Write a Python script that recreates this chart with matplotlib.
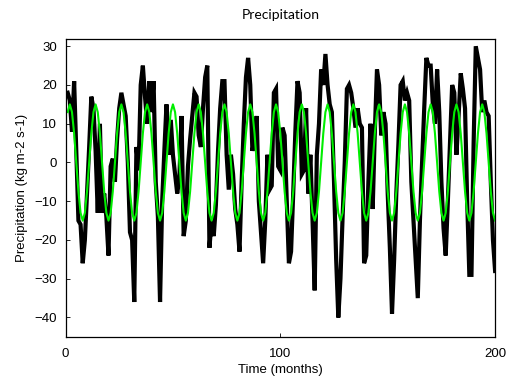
import numpy as np
import matplotlib
matplotlib.use('Agg')
import matplotlib.pyplot as plt

# monthly values (months 1..200)
months = np.arange(1, 201)

precip = [
    18, 16, 8, 21, 3, -15, -16, -26, -20, -8, 4, 17,
    14, 3, -13, 10, -13, -8, -14, -24, -1, 1, -5, 6,
    14, 18, 15, 12, 0, -18, -20, -36, 4, -2, 20, 25,
    17, 10, 21, 13, 21, -5, -14, -36, -10, 3, 15, 2,
    11, 2, -3, -8, -4, 12, -19, -15, -1, 6, 12, 18,
    17, 7, 4, 14, 22, 25, -22, -15, -19, -11, 3, 14,
    21, 21, 2, -7, 2, -3, -12, -16, -23, -5, 10, 22,
    27, 20, 3, 6, 12, -10, -18, -26, -15, 2, -7, -6,
    18, 19, -1, -2, 9, 7, -10, -26, -23, -8, 8, 21,
    18, -3, -2, 14, -8, 2, -15, -33, 2, 10, 24, 20,
    28, 20, 15, 13, -5, -25, -40, -30, -14, 0, 19, 20,
    18, 14, 9, 14, 10, 9, -26, -24, -5, 10, -12, 8,
    24, 20, 7, 13, 10, -8, -22, -39, -25, -8, 5, 20,
    21, 16, 18, 16, -5, -15, -25, -35, -15, 0, 14, 27,
    25, 25, 15, 10, 24, 13, -5, -17, -24, -10, 5, 20,
    18, 2, 12, 23, 19, 14, -10, -29, -29, 5, 30, 27,
    24, 13, 16, 13, 12, -5, -20, -28,
]

# mean seasonal cycle (green), starting in month 1
climatology = [13, 15, 13, 7.5, 0, -7.5, -13, -15, -13, -7.5, 0, 7.5]
clim_series = np.tile(climatology, 17)[:len(months)]

plt.rcParams['font.family'] = ['Liberation Sans', 'DejaVu Sans']

fig = plt.figure(figsize=(5.12, 3.85), dpi=100)
ax = fig.add_axes([0.128, 0.125, 0.839, 0.774])

ax.plot(months, precip, color='black', linewidth=3.0, solid_joinstyle='miter')
ax.plot(months, clim_series, color='#00ee00', linewidth=1.5)

ax.set_xlim(0, 200)
ax.set_ylim(-45, 31.9)
ax.set_xticks([0, 100, 200])
ax.set_yticks(np.arange(-40, 31, 10))
ax.tick_params(direction='in', length=3, width=0.6, labelsize=9.5)
ax.tick_params(axis='x', pad=8)
ax.tick_params(axis='y', pad=6)

ax.set_title('Precipitation', fontsize=10, pad=14, family=['Lato', 'DejaVu Sans'])
ax.set_xlabel('Time (months)', fontsize=9.5, labelpad=3)
ax.set_ylabel('Precipitation (kg m-2 s-1)', fontsize=9.5, labelpad=5)

for s in ax.spines.values():
    s.set_linewidth(0.9)

fig.savefig('out.png', dpi=100)
